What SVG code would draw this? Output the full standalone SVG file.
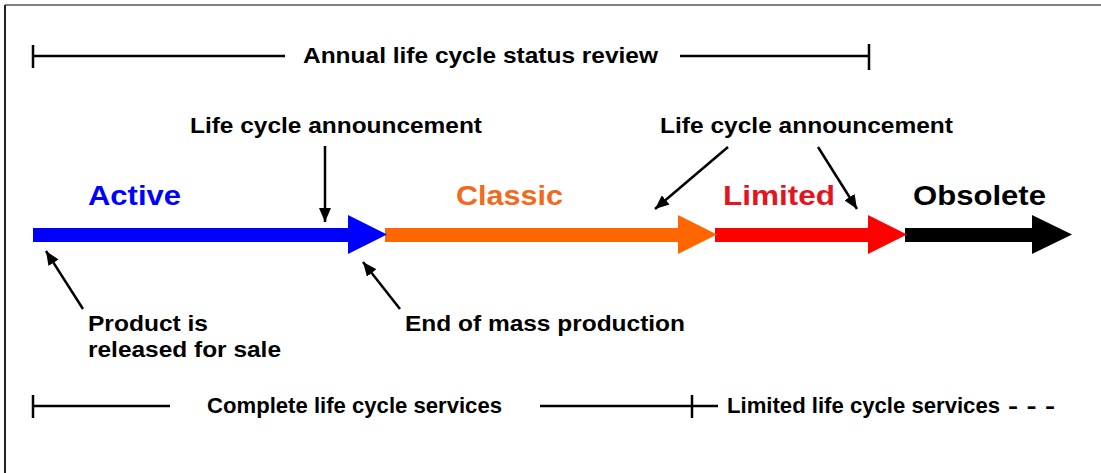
<svg xmlns="http://www.w3.org/2000/svg" width="1101" height="473" viewBox="0 0 1101 473">
<style>
text{font-family:"Liberation Sans",Arial,sans-serif;font-weight:bold;fill:#000}
.lbl{font-size:22px}
.phase{font-size:28px}
.bot{font-size:22px}
.ln{stroke:#000;stroke-width:2.5;fill:none}
.arr{stroke:#000;stroke-width:2.5;fill:none;marker-end:url(#ah)}
</style>
<defs>
<marker id="ah" markerUnits="userSpaceOnUse" markerWidth="16" markerHeight="12" refX="14" refY="6" orient="auto">
<path d="M0,0 L14,6 L0,12 Z" fill="#000"/>
</marker>
</defs>
<rect width="1101" height="473" fill="#fff"/>
<line x1="5" y1="5" x2="1101" y2="5" stroke="#808080" stroke-width="2"/>
<line x1="5" y1="5" x2="5" y2="473" stroke="#222" stroke-width="2"/>

<g id="annual-review">
<line class="ln" x1="33" y1="56" x2="285" y2="56"/>
<line class="ln" x1="33" y1="45" x2="33" y2="68"/>
<line class="ln" x1="680" y1="56" x2="869" y2="56"/>
<line class="ln" x1="869" y1="44" x2="869" y2="70"/>
<text class="lbl" x="303" y="63" textLength="355" lengthAdjust="spacingAndGlyphs">Annual life cycle status review</text>
</g>

<g id="timeline">
<rect x="33" y="228" width="320" height="14" fill="#0000FF"/>
<rect x="385" y="228" width="298" height="14" fill="#FF6600"/>
<rect x="715" y="228" width="158" height="14" fill="#FF0000"/>
<rect x="905" y="228" width="130" height="14" fill="#000"/>
<polygon points="348,215 387,234.5 348,254" fill="#0000FF"/>
<polygon points="678,215 717,234.5 678,254" fill="#FF6600"/>
<polygon points="868,215 907,234.5 868,254" fill="#FF0000"/>
<polygon points="1032,215 1072,234.5 1032,254" fill="#000"/>
</g>

<g id="active"><text class="phase" x="88" y="205" textLength="93" lengthAdjust="spacingAndGlyphs" style="fill:#0000FF">Active</text></g>
<g id="classic"><text class="phase" x="456" y="205" textLength="107" lengthAdjust="spacingAndGlyphs" style="fill:#F26A1B">Classic</text></g>
<g id="limited"><text class="phase" x="723" y="205" textLength="112" lengthAdjust="spacingAndGlyphs" style="fill:#E3141E">Limited</text></g>
<g id="obsolete"><text class="phase" x="913" y="205" textLength="133" lengthAdjust="spacingAndGlyphs">Obsolete</text></g>

<g id="announce-1"><text class="lbl" x="190" y="133" textLength="292" lengthAdjust="spacingAndGlyphs">Life cycle announcement</text></g>
<g id="announce-2"><text class="lbl" x="660" y="133" textLength="293" lengthAdjust="spacingAndGlyphs">Life cycle announcement</text></g>
<g id="release"><text class="lbl" x="88" y="331" textLength="120" lengthAdjust="spacingAndGlyphs">Product is</text><text class="lbl" x="88" y="357" textLength="193" lengthAdjust="spacingAndGlyphs">released for sale</text></g>
<g id="end-mass"><text class="lbl" x="405" y="331" textLength="280" lengthAdjust="spacingAndGlyphs">End of mass production</text></g>

<g id="connectors">
<line class="arr" x1="325" y1="146" x2="325" y2="222"/>
<line class="arr" x1="728" y1="147" x2="655" y2="209"/>
<line class="arr" x1="818" y1="147" x2="857" y2="209"/>
<line class="arr" x1="83" y1="309" x2="46" y2="251"/>
<line class="arr" x1="400" y1="309" x2="363" y2="262"/>
</g>

<g id="services">
<line class="ln" x1="33" y1="406" x2="170" y2="406"/>
<line class="ln" x1="33" y1="395" x2="33" y2="418"/>
<line class="ln" x1="540" y1="406" x2="718" y2="406"/>
<line class="ln" x1="692" y1="395" x2="692" y2="418"/>
<text class="bot" x="207" y="413" textLength="295" lengthAdjust="spacingAndGlyphs">Complete life cycle services</text>
<text class="bot" x="727" y="413" textLength="273" lengthAdjust="spacingAndGlyphs">Limited life cycle services</text>
<text class="bot" x="1008" y="413" textLength="47" lengthAdjust="spacingAndGlyphs">- - -</text>
</g>
</svg>
